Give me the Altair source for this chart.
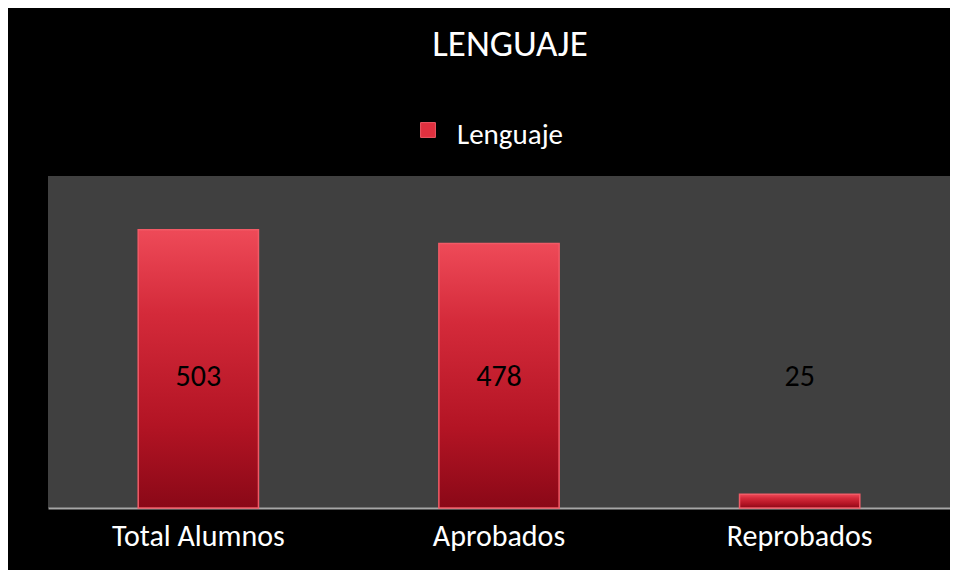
import altair as alt
import pandas as pd

categories = ["Total Alumnos", "Aprobados", "Reprobados"]
values = [503, 478, 25]
series_name = "Lenguaje"
chart_title = "LENGUAJE"

df = pd.DataFrame({"cat": categories, "val": values, "serie": [series_name] * 3})

FONT = "Carlito, Lato, Open Sans"

xenc = alt.X("cat:N", sort=categories,
             scale=alt.Scale(paddingInner=0.6, paddingOuter=0.3),
             axis=alt.Axis(title=None, labelAngle=0, ticks=False, domainColor="#a6a6a6",
                           domainWidth=2, labelColor="#ffffff", labelFont=FONT,
                           labelFontSize=30, labelBaseline="alphabetic", labelPadding=37,
                           grid=False))
yscale = alt.Scale(domain=[0, 600])

grad = alt.Gradient(gradient="linear", x1=0, y1=0, x2=0, y2=1,
                    stops=[alt.GradientStop(color="#ee4a58", offset=0),
                           alt.GradientStop(color="#d42a3a", offset=0.3),
                           alt.GradientStop(color="#b31424", offset=0.7),
                           alt.GradientStop(color="#8a0817", offset=1)])

bars = alt.Chart(df).mark_bar(fill=grad, stroke="#f25a66", strokeWidth=1.5).encode(
    x=xenc,
    y=alt.Y("val:Q", scale=yscale, axis=None),
)

labels = alt.Chart(df).mark_text(font=FONT, fontSize=30, color="#000000",
                                 baseline="middle").encode(
    x=alt.X("cat:N", sort=categories),
    y=alt.value(201),
    text="val:Q",
)

legend_df = pd.DataFrame({"serie": [series_name]})
legend_sym = alt.Chart(legend_df).mark_square(size=220, fill="#e0303f", opacity=1,
                                              stroke="#f25a66", strokeWidth=1).encode(
    x=alt.value(380), y=alt.value(-46))
legend_txt = alt.Chart(legend_df).mark_text(font=FONT, fontSize=29, color="#ffffff",
                                            align="left", baseline="alphabetic").encode(
    x=alt.value(409), y=alt.value(-32), text="serie:N")

title_df = pd.DataFrame({"t": [chart_title]})
title_txt = alt.Chart(title_df).mark_text(font=FONT, fontSize=37, color="#ffffff",
                                          align="center", baseline="alphabetic").encode(
    x=alt.value(462), y=alt.value(-120), text="t:N")

chart = alt.layer(bars, labels, legend_sym, legend_txt, title_txt).properties(
    width=902, height=332,
    background="#000000",
    padding={"left": 40, "top": 168, "right": 0, "bottom": 62},
    autosize=alt.AutoSizeParams(type="none"),
).configure_view(fill="#404040", stroke=None)

chart.save("out.html", embed_options={"renderer": "svg", "actions": False})
